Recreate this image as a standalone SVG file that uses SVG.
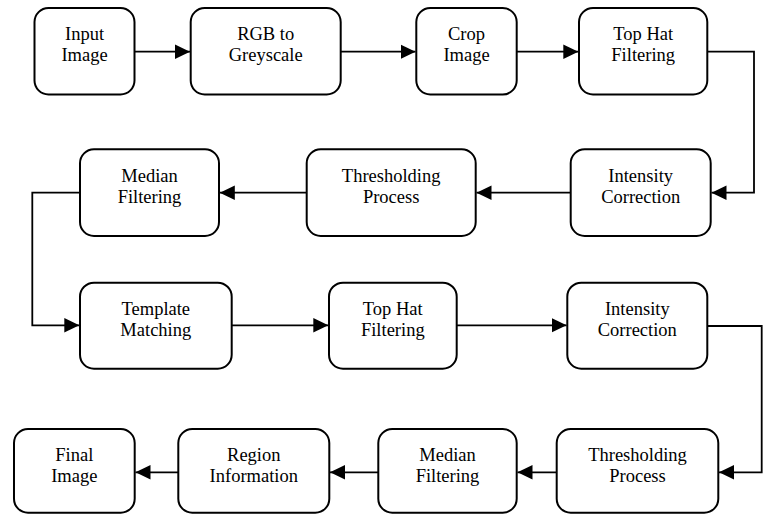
<svg xmlns="http://www.w3.org/2000/svg" width="767" height="514" viewBox="0 0 767 514">
<defs>
<style>
.box{fill:#fff;stroke:#000;stroke-width:2}
.t{font-family:'Liberation Serif','Times New Roman','DejaVu Serif',serif;font-size:18.5px;fill:#000;text-anchor:middle}
.c{fill:none;stroke:#000;stroke-width:1.8}
</style>
<marker id="ah" markerUnits="userSpaceOnUse" markerWidth="16" markerHeight="16" viewBox="0 0 16 16" refX="15" refY="8" orient="auto">
<path d="M0,0.8 L15,8 L0,15.2 Z" fill="#000"/>
</marker>
</defs>
<rect width="767" height="514" fill="#fff"/>
<g id="connectors">
<path class="c" d="M134.7,51.7 H190" marker-end="url(#ah)"/>
<path class="c" d="M340.7,51.7 H415.5" marker-end="url(#ah)"/>
<path class="c" d="M516.7,51.7 H578.3" marker-end="url(#ah)"/>
<path class="c" d="M707.3,51.7 H754 V192.7 H711.5" marker-end="url(#ah)"/>
<path class="c" d="M570.7,192.7 H476.5" marker-end="url(#ah)"/>
<path class="c" d="M306.7,192.7 H219.8" marker-end="url(#ah)"/>
<path class="c" d="M80,192.7 H32.3 V325.3 H79.3" marker-end="url(#ah)"/>
<path class="c" d="M231.7,325.3 H328.3" marker-end="url(#ah)"/>
<path class="c" d="M456.7,325.3 H566.6" marker-end="url(#ah)"/>
<path class="c" d="M707.3,326 H761.7 V472.3 H719" marker-end="url(#ah)"/>
<path class="c" d="M556.7,472.3 H517.5" marker-end="url(#ah)"/>
<path class="c" d="M378.3,472.3 H330" marker-end="url(#ah)"/>
<path class="c" d="M178.3,472.3 H135.5" marker-end="url(#ah)"/>
</g>
<g id="n1"><rect class="box" x="34.5" y="8" width="100" height="86.5" rx="14"/><text class="t" x="84.5" y="40">Input</text><text class="t" x="84.5" y="61">Image</text></g>
<g id="n2"><rect class="box" x="190.7" y="8" width="150" height="86.5" rx="14"/><text class="t" x="265.7" y="40">RGB to</text><text class="t" x="265.7" y="61">Greyscale</text></g>
<g id="n3"><rect class="box" x="416.3" y="8" width="100.4" height="86.5" rx="14"/><text class="t" x="466.5" y="40">Crop</text><text class="t" x="466.5" y="61">Image</text></g>
<g id="n4"><rect class="box" x="579" y="8" width="128.3" height="86.5" rx="14"/><text class="t" x="643.2" y="40">Top Hat</text><text class="t" x="643.2" y="61">Filtering</text></g>
<g id="n5"><rect class="box" x="570.7" y="149.3" width="140" height="86.7" rx="14"/><text class="t" x="640.7" y="181.7">Intensity</text><text class="t" x="640.7" y="202.7">Correction</text></g>
<g id="n6"><rect class="box" x="306.7" y="149.3" width="169" height="86.7" rx="14"/><text class="t" x="391.2" y="181.7">Thresholding</text><text class="t" x="391.2" y="202.7">Process</text></g>
<g id="n7"><rect class="box" x="80" y="149.3" width="139" height="86.7" rx="14"/><text class="t" x="149.5" y="181.7">Median</text><text class="t" x="149.5" y="202.7">Filtering</text></g>
<g id="n8"><rect class="box" x="80" y="282.7" width="151.7" height="86" rx="14"/><text class="t" x="155.8" y="314.7">Template</text><text class="t" x="155.8" y="335.7">Matching</text></g>
<g id="n9"><rect class="box" x="329" y="282.7" width="127.7" height="86" rx="14"/><text class="t" x="392.8" y="314.7">Top Hat</text><text class="t" x="392.8" y="335.7">Filtering</text></g>
<g id="n10"><rect class="box" x="567.3" y="282.7" width="140" height="86" rx="14"/><text class="t" x="637.3" y="314.7">Intensity</text><text class="t" x="637.3" y="335.7">Correction</text></g>
<g id="n11"><rect class="box" x="556.7" y="429" width="161.6" height="83.7" rx="14"/><text class="t" x="637.5" y="460.7">Thresholding</text><text class="t" x="637.5" y="481.7">Process</text></g>
<g id="n12"><rect class="box" x="378.3" y="429" width="138.4" height="83.7" rx="14"/><text class="t" x="447.5" y="460.7">Median</text><text class="t" x="447.5" y="481.7">Filtering</text></g>
<g id="n13"><rect class="box" x="178.3" y="429" width="151" height="83.7" rx="14"/><text class="t" x="253.8" y="460.7">Region</text><text class="t" x="253.8" y="481.7">Information</text></g>
<g id="n14"><rect class="box" x="14" y="429" width="120.7" height="83.7" rx="14"/><text class="t" x="74.3" y="460.7">Final</text><text class="t" x="74.3" y="481.7">Image</text></g>
</svg>
